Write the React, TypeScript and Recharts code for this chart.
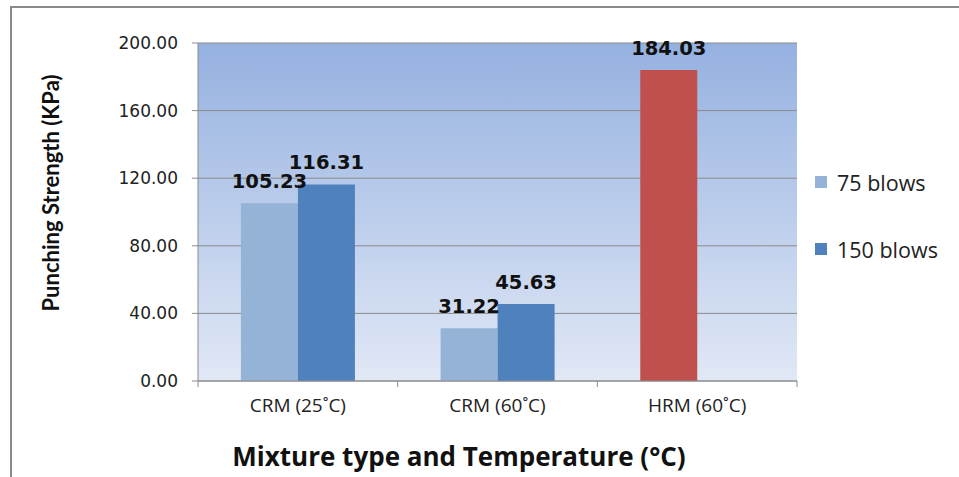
import { BarChart, Bar, XAxis, YAxis, CartesianGrid, Legend, LabelList, Label, Cell } from "recharts";

const categories = ["CRM (25˚C)", "CRM (60˚C)", "HRM (60˚C)"];
const blows75 = [105.23, 31.22, 184.03];
const blows150: (number | null)[] = [116.31, 45.63, null];
const yTicks = [0, 40, 80, 120, 160, 200];

const LIGHT = "#95b3d7";
const DARK = "#4f81bd";
const RED = "#c0504d";
const AXIS = "#8a8a8a";

// the HRM mix only has the 75 blows result, shown in red
const fills75 = [LIGHT, LIGHT, RED];

const data = categories.map((name, i) => ({
  name,
  b75: blows75[i],
  b150: blows150[i],
}));

const W = 959;
const H = 477;
const LEFT = 198;
const RIGHT = 162;
const HALF_BAND = (W - LEFT - RIGHT) / categories.length / 2;

const CategoryTick = (props: any) => {
  const { x, y, payload, index } = props;
  const last = index === categories.length - 1;
  return (
    <g>
      <line x1={x - HALF_BAND} y1={y} x2={x - HALF_BAND} y2={y + 6} stroke={AXIS} />
      {last && <line x1={x + HALF_BAND} y1={y} x2={x + HALF_BAND} y2={y + 6} stroke={AXIS} />}
      <text x={x} y={y + 31} textAnchor="middle" fill="#222" fontFamily="'Open Sans', sans-serif" fontSize={19}>
        {payload.value}
      </text>
    </g>
  );
};

const LegendBox = () => (
  <div style={{ paddingLeft: 18, fontFamily: "'Open Sans', sans-serif", fontSize: 21.5, color: "#222", whiteSpace: "nowrap" }}>
    {[
      { label: "75 blows", color: LIGHT },
      { label: "150 blows", color: DARK },
    ].map((item, i) => (
      <div key={item.label} style={{ display: "flex", alignItems: "center", height: 26, marginTop: i === 0 ? 0 : 41 }}>
        <span style={{ width: 12, height: 12, flex: "none", background: item.color, display: "inline-block", marginRight: 10 }} />
        <span>{item.label}</span>
      </div>
    ))}
  </div>
);

const fmt = (v: any) => (v == null ? "" : Number(v).toFixed(2));

export default function App() {
  return (
    <div style={{ position: "absolute", left: 0, top: 0, width: W, height: H, background: "#fff" }}>
      <div style={{ position: "absolute", left: 10, top: 6, right: 0, bottom: 0, borderLeft: `2px solid ${AXIS}`, borderTop: `2px solid ${AXIS}` }} />
      <BarChart
        width={W}
        height={H}
        data={data}
        margin={{ top: 43, right: RIGHT - 140, bottom: 66, left: 0 }}
        barCategoryGap="21.5%"
        barGap={0}
        style={{ position: "absolute", left: 0, top: 0 }}
      >
        <defs>
          <linearGradient id="plotBg" x1="0" y1="0" x2="0" y2="1">
            <stop offset="0%" stopColor="#95b1e0" />
            <stop offset="100%" stopColor="#e1e8f6" />
          </linearGradient>
        </defs>
        <CartesianGrid vertical={false} stroke={AXIS} fill="url(#plotBg)" fillOpacity={1} />
        <XAxis
          dataKey="name"
          height={30}
          axisLine={{ stroke: AXIS }}
          tickLine={false}
          tickSize={0}
          tickMargin={0}
          tick={<CategoryTick />}
          interval={0}
        >
          <Label
            content={() => (
              <text x={459} y={466} textAnchor="middle" fill="#111" fontFamily="'Open Sans', sans-serif" fontWeight="bold" fontSize={26}>
                Mixture type and Temperature (°C)
              </text>
            )}
          />
        </XAxis>
        <YAxis
          width={LEFT}
          domain={[0, 200]}
          ticks={yTicks}
          interval={0}
          axisLine={{ stroke: AXIS }}
          tickLine={{ stroke: AXIS }}
          tickSize={6}
          tickMargin={14}
          tickFormatter={(v) => v.toFixed(2)}
          tick={{ fill: "#222", fontFamily: "'DejaVu Sans', sans-serif", fontSize: 17 }}
        >
          <Label
            content={() => (
              <text
                x={50}
                y={193}
                transform="rotate(-90 50 193)"
                textAnchor="middle"
                dominantBaseline="central"
                fill="#111"
                fontFamily="Lato, sans-serif"
                fontWeight="bold"
                fontSize={22}
              >
                Punching Strength (KPa)
              </text>
            )}
          />
        </YAxis>
        <Legend
          layout="vertical"
          align="right"
          verticalAlign="middle"
          width={140}
          wrapperStyle={{ top: 169 }}
          content={<LegendBox />}
        />
        <Bar dataKey="b75" name="75 blows" fill={LIGHT} isAnimationActive={false}>
          {data.map((d, i) => (
            <Cell key={d.name} fill={fills75[i]} />
          ))}
          <LabelList dataKey="b75" position="top" offset={15} formatter={fmt} fill="#111" fontFamily="'DejaVu Sans', sans-serif" fontWeight="bold" fontSize={19.5} />
        </Bar>
        <Bar dataKey="b150" name="150 blows" fill={DARK} isAnimationActive={false}>
          <LabelList dataKey="b150" position="top" offset={15} formatter={fmt} fill="#111" fontFamily="'DejaVu Sans', sans-serif" fontWeight="bold" fontSize={19.5} />
        </Bar>
      </BarChart>
    </div>
  );
}
